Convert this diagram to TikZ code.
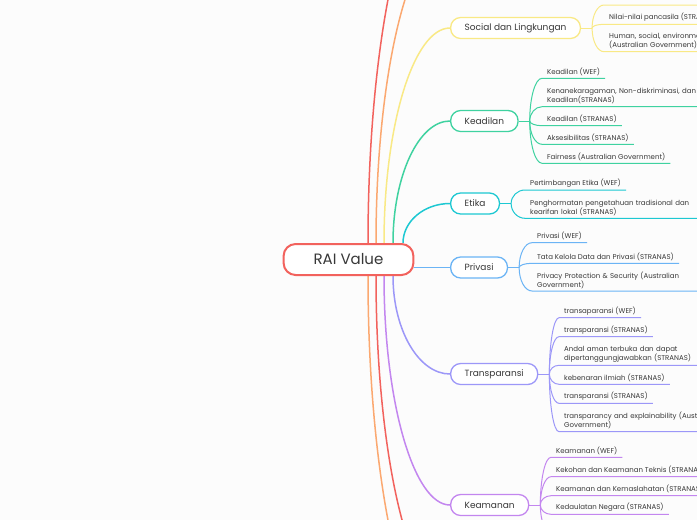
\documentclass[tikz,border=0pt]{standalone}
\usepackage{fontspec}
\setmainfont{Poppins}
\usetikzlibrary{calc}
\usetikzlibrary{backgrounds}
\usetikzlibrary{positioning}

\definecolor{paper}{HTML}{FCFCFC}
\definecolor{ink}{HTML}{383838}
\definecolor{cred}{HTML}{F2625D}
\definecolor{corange}{HTML}{FBA870}
\definecolor{cyellow}{HTML}{F9E985}
\definecolor{cgreen}{HTML}{3FD2A0}
\definecolor{ccyan}{HTML}{1DC8D2}
\definecolor{cblue}{HTML}{6BB4F5}
\definecolor{clav}{HTML}{9C97F8}
\definecolor{cpurple}{HTML}{C386EF}

\begin{document}
\begin{tikzpicture}[x=1pt, y=-1pt,
root/.style={draw=cred, line width=2pt, rounded corners=12pt, fill=white, minimum height=31pt, inner xsep=30pt, text=ink, font=\fontsize{15}{18}\selectfont},
topic/.style={draw=#1, line width=1.3pt, rounded corners=10pt, fill=white, minimum height=21pt, inner xsep=14pt, inner ysep=0pt, anchor=west, text=ink, font=\fontsize{9}{11}\selectfont},
leaf/.style={anchor=south west, inner xsep=5pt, inner ysep=2.5pt, align=left, text=ink, font=\fontsize{7}{9}\selectfont},
wide/.style={leaf, text width=162pt},
mm/.style={to path={.. controls ($(\tikztostart)!0.55!(\tikztostart|-\tikztotarget)$) and ($(\tikztotarget)!0.55!(\tikztostart|-\tikztotarget)$) .. (\tikztotarget)}},
limb/.style={line width=1.5pt},
twig/.style={line width=1pt}]
\useasboundingbox (0,0) rectangle (697,520);

\node[root] (rai) at (348.5,259.5) {RAI Value};
\node[topic=cyellow] (soc) at (450,28) {Social dan Lingkungan};
\node[topic=cgreen] (kea) at (450,121) {Keadilan};
\node[topic=ccyan] (eti) at (450,203.5) {Etika};
\node[topic=cblue] (pri) at (450,267.5) {Privasi};
\node[topic=clav] (tra) at (450,374) {Transparansi};
\node[topic=cpurple] (kem) at (450,505) {Keamanan};

% sub items
\node[leaf] (s1) at (604,24.3) {Nilai-nilai pancasila (STRANAS)};
\node[wide] (s2) at (604,51.7) {Human, social, environmental wellbeing\\(Australian Government)};
\node[leaf] (k1) at (542,78.3) {Keadilan (WEF)};
\node[wide] (k2) at (542,106.7) {Kenanekaragaman, Non-diskriminasi, dan\\Keadilan(STRANAS)};
\node[leaf] (k3) at (542,125.7) {Keadilan (STRANAS)};
\node[leaf] (k4) at (542,144.3) {Aksesibilitas (STRANAS)};
\node[leaf] (k5) at (542,163.3) {Fairness (Australian Government)};
\node[leaf] (e1) at (525,190) {Pertimbangan Etika (WEF)};
\node[wide] (e2) at (525,218.3) {Penghormatan pengetahuan tradisional dan\\kearifan lokal (STRANAS)};
\node[leaf] (p1) at (532,242.7) {Privasi (WEF)};
\node[leaf] (p2) at (532,263.3) {Tata Kelola Data dan Privasi (STRANAS)};
\node[wide] (p3) at (532,291) {Privacy Protection \& Security (Australian\\Government)};
\node[leaf] (t1) at (559,317.7) {transaparansi (WEF)};
\node[leaf] (t2) at (559,336.7) {transparansi (STRANAS)};
\node[wide] (t3) at (559,365.3) {Andal aman terbuka dan dapat\\dipertanggungjawabkan (STRANAS)};
\node[leaf] (t4) at (559,384.3) {kebenaran ilmiah (STRANAS)};
\node[leaf] (t5) at (559,403.3) {transparansi (STRANAS)};
\node[wide] (t6) at (559,431.7) {transparancy and explainability (Australian\\Government)};
\node[leaf] (m1) at (551,457.3) {Keamanan (WEF)};
\node[leaf] (m2) at (551,476.7) {Kekohan dan Keamanan Teknis (STRANAS)};
\node[leaf] (m3) at (551,495.7) {Keamanan dan Kemaslahatan (STRANAS)};
\node[leaf] (m4) at (551,514.3) {Kedaulatan Negara (STRANAS)};

% ends off the page
\coordinate (rtop) at (450,-130);
\coordinate (otop) at (450,-64);
\coordinate (obot) at (450,650);
\coordinate (rbot) at (450,597);
\coordinate (s0) at (604,5);
\coordinate (s0e) at (700,5);
\coordinate (m5) at (551,533);
\coordinate (m5e) at (640,533);

\foreach \n/\dx in {1/19.5, 2/27.5, 3/35.5, 4/44.5, 5/54.5}{
\coordinate (u\n) at ([xshift=\dx pt]rai.north);
\coordinate (d\n) at ([xshift=\dx pt]rai.south);}
\foreach \t in {soc, kea, eti, pri, tra, kem}{
\coordinate (j\t) at ([xshift=11pt]\t.east);}

\begin{scope}[on background layer]
\fill[paper] (0,0) rectangle (697,520);
\foreach \a/\b/\c in {u1/rtop/cred, u2/otop/corange, u3/soc.west/cyellow, u4/kea.west/cgreen, u5/eti.west/ccyan, d1/obot/corange, d2/rbot/cred, d3/kem.west/cpurple, d4/tra.west/clav}
\draw[limb, \c] (\a) to[mm] (\b);
\draw[limb, cblue] (rai.east |- pri.west) -- (pri.west);
\end{scope}

\foreach \t/\c/\l in {soc/cyellow/{s1,s2}, kea/cgreen/{k1,k2,k3,k4,k5}, eti/ccyan/{e1,e2}, pri/cblue/{p1,p2,p3}, tra/clav/{t1,t2,t3,t4,t5,t6}, kem/cpurple/{m1,m2,m3,m4}}{
\draw[twig, \c] (\t.east) -- (j\t);
\foreach \x in \l
\draw[twig, \c] (j\t) to[mm] (\x.south west) -- (\x.south east);}
\draw[twig, cyellow] (jsoc) to[mm] (s0) -- (s0e);
\draw[twig, cpurple] (jkem) to[mm] (m5) -- (m5e);
\end{tikzpicture}
\end{document}
